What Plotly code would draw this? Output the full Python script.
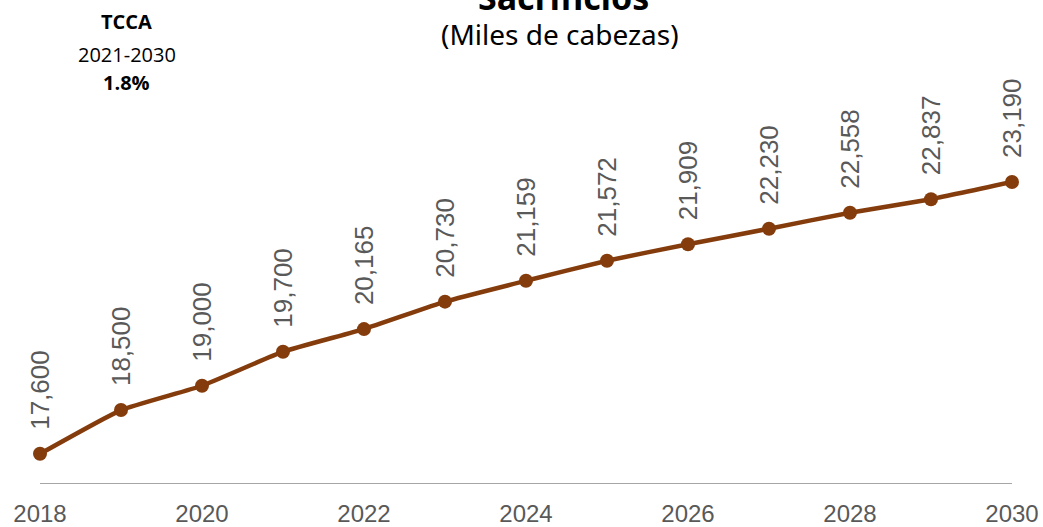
import plotly.graph_objects as go

# Sacrificios, miles de cabezas
years = [2018, 2019, 2020, 2021, 2022, 2023, 2024, 2025, 2026, 2027, 2028, 2029, 2030]
values = [17600, 18500, 19000, 19700, 20165, 20730, 21159, 21572, 21909, 22230, 22558, 22837, 23190]
tick_years = [2018, 2020, 2022, 2024, 2026, 2028, 2030]

LINE_COLOR = "#843C0C"
TEXT_GRAY = "#595959"

fig = go.Figure()

fig.add_trace(go.Scatter(
    x=years,
    y=values,
    mode="lines+markers",
    line=dict(color=LINE_COLOR, width=4.5, shape="spline", smoothing=0.4),
    marker=dict(color=LINE_COLOR, size=14),
    cliponaxis=False,
    hoverinfo="x+y",
    showlegend=False,
))

# rotated data labels
for yr, v in zip(years, values):
    fig.add_annotation(
        x=yr, y=v, xref="x", yref="y",
        text=f"{v:,}",
        textangle=-90,
        showarrow=False,
        yanchor="bottom",
        yshift=22,
        font=dict(family="Liberation Sans, Arial", size=26, color=TEXT_GRAY),
    )

# title and subtitle
fig.add_annotation(
    x=0.539, y=1.25, xref="paper", yref="paper",
    text="<b>Sacrificios</b>", showarrow=False,
    xanchor="center", yanchor="middle",
    font=dict(family="Noto Sans", size=34, color="black"),
)
fig.add_annotation(
    x=0.535, y=1.155, xref="paper", yref="paper",
    text="(Miles de cabezas)", showarrow=False,
    xanchor="center", yanchor="middle",
    font=dict(family="Noto Sans", size=28, color="black"),
)

# TCCA box
tcca_lines = [("<b>TCCA</b>", 1.1864), ("2021-2030", 1.1015), ("<b>1.8%</b>", 1.0283)]
for txt, ypos in tcca_lines:
    fig.add_annotation(
        x=0.0895, y=ypos, xref="paper", yref="paper",
        text=txt, showarrow=False,
        xanchor="center", yanchor="middle",
        font=dict(family="Open Sans, Noto Sans", size=20, color="black"),
    )

fig.update_layout(
    width=1043,
    height=527,
    margin=dict(l=40, r=31, t=94, b=44),
    plot_bgcolor="white",
    paper_bgcolor="white",
    xaxis=dict(
        range=[2018, 2030],
        tickvals=tick_years,
        showgrid=False,
        zeroline=False,
        showline=True,
        linecolor="#A6A6A6",
        linewidth=1,
        ticks="",
        automargin=False,
        ticklabelstandoff=9,
        tickfont=dict(family="Liberation Sans, Arial", size=24, color=TEXT_GRAY),
    ),
    yaxis=dict(
        range=[17000, 25000],
        visible=False,
        showgrid=False,
        automargin=False,
    ),
)

# drop the default page margin so the figure sits at the window's corner
fig.write_html(
    "out.html",
    config={"displayModeBar": False},
    post_script="document.body.style.margin='0';",
)
